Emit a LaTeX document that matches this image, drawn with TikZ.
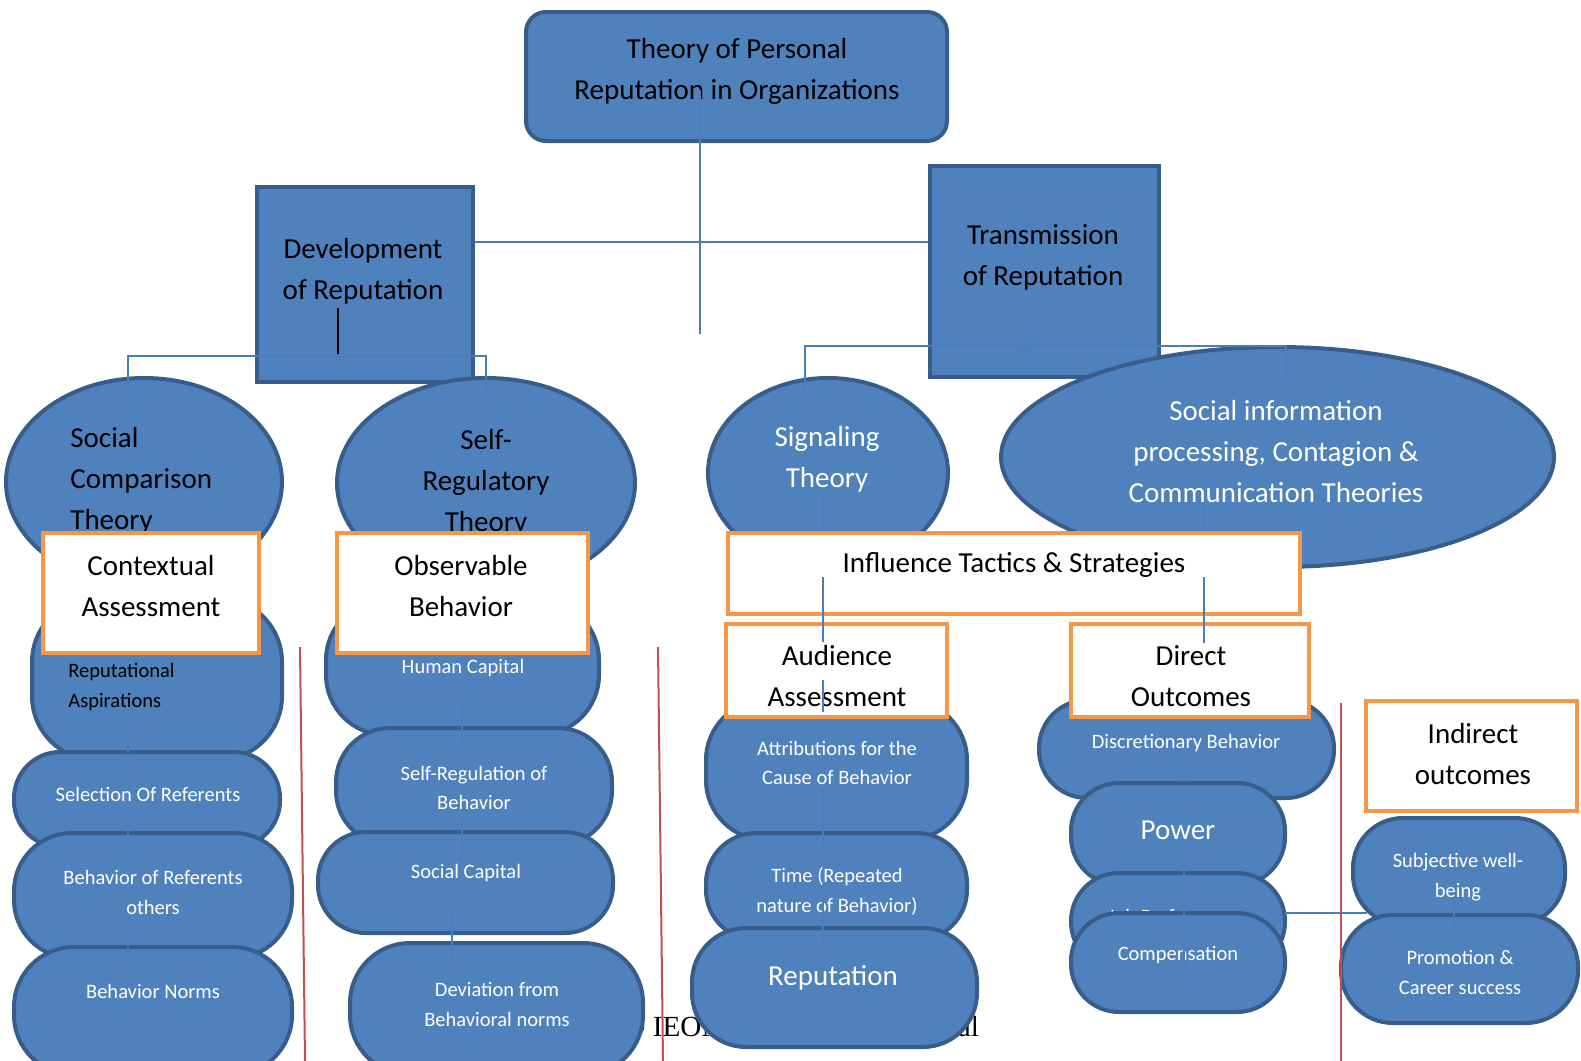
\documentclass[tikz,border=0pt]{standalone}
\usepackage{fontspec}
\setmainfont{Carlito}
\newfontfamily\footfont{Liberation Serif}
\usetikzlibrary{shapes.geometric}
\definecolor{fillblue}{HTML}{4F81BD}
\definecolor{bordblue}{HTML}{385D8A}
\definecolor{linkblue}{HTML}{4A7EBB}
\definecolor{frameorange}{HTML}{F79646}
\definecolor{rulered}{HTML}{C0504D}

\begin{document}
\begin{tikzpicture}[x=0.5pt,y=-0.5pt,
    wh/.style 2 args={minimum width=#1*0.5pt,minimum height=#2*0.5pt},
    blob/.style={draw=bordblue,fill=fillblue,line width=2pt,inner sep=0pt},
    pill/.style={blob,rounded corners=#1},
    pill/.default=23pt,
    oval/.style={blob,ellipse},
    framebox/.style={draw=frameorange,fill=white,line width=2.3pt,inner sep=0pt},
    bigtxt/.style={font=\fontsize{14.5}{20.5}\selectfont,align=center,inner sep=0pt},
    smalltxt/.style={font=\fontsize{10.25}{14.75}\selectfont,align=center,inner sep=0pt,text=white},
    link/.style={draw=linkblue,line width=1pt},
    redrule/.style={draw=rulered,line width=1pt}]
    \clip (0,0) rectangle (1581,1061);

    % page footer, mostly hidden
    \node[anchor=base west,inner sep=0pt,font=\footfont\fontsize{14.6}{17}\selectfont] (footer) at (623,1036) {\textcopyright{} IEOM Society International};

    % top levels
    \node[blob,rounded corners=10pt,wh={421}{129}] (top) at (736.5,76.5) {};
    \node[bigtxt] (topT) at (737,71) {Theory of Personal\\Reputation in Organizations};
    \node[blob,wh={216}{195}] (dev) at (365,284.5) {};
    \node[bigtxt] (devT) at (363,271.5) {Development\\of Reputation};
    \node[blob,wh={229}{211}] (trans) at (1044.5,271.5) {};
    \node[bigtxt] (transT) at (1043,257) {Transmission\\of Reputation};

    % theories
    \node[oval,wh={276}{208}] (socc) at (144,482) {};
    \node[bigtxt,anchor=west,align=left] (soccT) at (70,481) {Social\\Comparison\\Theory};
    \node[oval,wh={298}{210}] (selfreg) at (486,483) {};
    \node[bigtxt] (selfregT) at (486,483) {Self-\\Regulatory\\Theory};
    \node[oval,wh={240}{190}] (signal) at (828,473) {};
    \node[bigtxt,text=white] (signalT) at (827,459) {Signaling\\Theory};
    \node[oval,wh={553}{220}] (sip) at (1277.5,457) {};
    \node[bigtxt,text=white] (sipT) at (1276,452) {Social information\\processing, Contagion \&\\Communication Theories};

    % left stack
    \node[pill=32pt,wh={250}{162}] (asp) at (157,679) {};
    \node[smalltxt,text=black,anchor=west,align=left] (aspT) at (68,687) {Reputational\\Aspirations};
    \node[pill,wh={266}{95}] (selref) at (147,799.5) {};
    \node[smalltxt] (selrefT) at (148,794) {Selection Of Referents};
    \node[pill=29pt,wh={278}{125}] (behref) at (153,895.5) {};
    \node[smalltxt] (behrefT) at (153,892.5) {Behavior of Referents\\others};
    \node[pill=30pt,wh={278}{128}] (bnorms) at (153,1011) {};
    \node[smalltxt] (bnormsT) at (153,991) {Behavior Norms};

    % middle stack
    \node[pill=30pt,wh={273}{135}] (human) at (462.5,667.5) {};
    \node[smalltxt] (humanT) at (463,668) {Human Capital};
    \node[pill=27pt,wh={276}{117}] (selfrb) at (474,786.5) {};
    \node[smalltxt] (selfrbT) at (474,788) {Self-Regulation of\\Behavior};
    \node[pill=24pt,wh={295}{101}] (soccap) at (465.5,882.5) {};
    \node[smalltxt] (soccapT) at (466,873) {Social Capital};
    \node[pill=30pt,wh={293}{132}] (devnorm) at (496.5,1009) {};
    \node[smalltxt] (devnormT) at (497,1004.5) {Deviation from\\Behavioral norms};

    % audience stack
    \node[pill=30pt,wh={261}{140}] (attr) at (836.5,770) {};
    \node[smalltxt] (attrT) at (837,763) {Attributions for the\\Cause of Behavior};
    \node[pill=25pt,wh={261}{107}] (time) at (836.5,886.5) {};
    \node[smalltxt] (timeT) at (837,891.5) {Time (Repeated\\nature of Behavior)};
    \node[pill=27pt,wh={285}{119}] (rep) at (834.5,987.5) {};
    \node[bigtxt,text=white] (repT) at (833,978) {Reputation};

    % direct stack
    \node[pill=24pt,wh={295}{98}] (disc) at (1186.5,749) {};
    \node[smalltxt] (discT) at (1186,743) {Discretionary Behavior};
    \node[pill=24pt,wh={214}{102}] (power) at (1178,834) {};
    \node[bigtxt,text=white] (powerT) at (1178,830) {Power};
    \node[pill=24pt,wh={214}{97}] (jobperf) at (1178,921.5) {};
    \node[smalltxt] (jobperfT) at (1178,916) {Job Performance};
    \node[pill=24pt,wh={214}{99}] (comp) at (1178,962.5) {};
    \node[smalltxt] (compT) at (1178,955) {Compensation};

    % indirect stack
    \node[pill=25pt,wh={212}{107}] (subj) at (1459,871.5) {};
    \node[smalltxt] (subjT) at (1458,877) {Subjective well-\\being};
    \node[pill=26pt,wh={237}{108}] (promo) at (1459.5,969) {};
    \node[smalltxt] (promoT) at (1460,972.5) {Promotion \&\\Career success};

    % orange frames
    \node[framebox,wh={216}{120}] (ctx) at (151,593) {};
    \node[bigtxt] (ctxT) at (151,586) {Contextual\\Assessment};
    \node[framebox,wh={251}{120}] (obs) at (462.5,593) {};
    \node[bigtxt] (obsT) at (461,586) {Observable\\Behavior};
    \node[framebox,wh={572}{81}] (infl) at (1014,573.5) {};
    \node[bigtxt] (inflT) at (1014,565) {Influence Tactics \& Strategies};
    \node[framebox,wh={221}{93}] (aud) at (836.5,670.5) {};
    \node[bigtxt] (audT) at (837,676.5) {Audience\\Assessment};
    \node[framebox,wh={238}{93}] (direct) at (1190,670.5) {};
    \node[bigtxt] (directT) at (1191,676.5) {Direct\\Outcomes};
    \node[framebox,wh={211}{110}] (indirect) at (1471.5,756) {};
    \node[bigtxt] (indirectT) at (1473,754) {Indirect\\outcomes};

    % connectors
    \coordinate (TrunkTop) at (700,90);
    \coordinate (TrunkEnd) at (700,334);
    \coordinate (BranchY) at (0,242);
    \draw[link] (TrunkTop) -- (TrunkEnd);% trunk
    \draw[link] (dev.east |- BranchY) -- (trans.west |- BranchY);% two branches

    \coordinate (DevForkL) at (128,356);
    \coordinate (DevForkR) at (486,356);
    \coordinate (SoccTop) at (128,397);
    \coordinate (SelfTop) at (486,397);
    \draw[link] (SoccTop) -- (DevForkL) -- (DevForkR) -- (SelfTop);% development fork
    \coordinate (DevStubA) at (338,308);
    \coordinate (DevStubB) at (338,354);
    \draw[black,line width=0.8pt] (DevStubA) -- (DevStubB);

    \coordinate (TransForkL) at (805,346);
    \coordinate (TransForkR) at (1286,346);
    \coordinate (SignalTop) at (805,397);
    \coordinate (SipTop) at (1286,381);
    \coordinate (TransStubA) at (1024,320);
    \coordinate (TransStubB) at (1024,363);
    \draw[link] (SignalTop) -- (TransForkL) -- (TransForkR) -- (SipTop);% transmission fork
    \draw[link] (TransStubA) -- (TransStubB);

    \coordinate (SigA) at (823,493);
    \coordinate (SigB) at (823,577);
    \coordinate (SigC) at (823,642);
    \coordinate (SigD) at (823,680);
    \coordinate (SigE) at (823,712);
    \coordinate (SigF) at (823,787);
    \coordinate (SigG) at (823,852);
    \coordinate (SigH) at (823,900);
    \coordinate (SigI) at (823,947);
    \draw[link] (SigA) -- (SigA |- infl.north);% signaling chain
    \draw[link] (SigB) -- (SigC);
    \draw[link] (SigD) -- (SigE);
    \draw[link] (SigF) -- (SigG);
    \draw[link] (SigH) -- (SigI);

    \coordinate (SipA) at (1205,503);
    \coordinate (SipB) at (1204,577);
    \coordinate (SipC) at (1204,643);
    \draw[link] (SipA) -- (SipA |- infl.north);% social information chain
    \draw[link] (SipB) -- (SipC);

    \coordinate (LeftA) at (128,713);
    \coordinate (LeftB) at (128,753);
    \coordinate (LeftC) at (128,820);
    \coordinate (LeftD) at (128,863);
    \coordinate (LeftE) at (128,913);
    \coordinate (LeftF) at (128,953);
    \draw[link] (LeftA) -- (LeftB);% left chain
    \draw[link] (LeftC) -- (LeftD);
    \draw[link] (LeftE) -- (LeftF);
    \coordinate (MidA) at (462,702);
    \coordinate (MidB) at (462,747);
    \coordinate (MidC) at (462,809);
    \coordinate (MidD) at (462,863);
    \coordinate (MidE) at (452,915);
    \coordinate (MidF) at (452,963);
    \draw[link] (MidA) -- (MidB);% middle chain
    \draw[link] (MidC) -- (MidD);
    \draw[link] (MidE) -- (MidF);
    \coordinate (RightA) at (1184,762);
    \coordinate (RightB) at (1184,782);
    \coordinate (RightC) at (1184,842);
    \coordinate (RightD) at (1184,987);
    \draw[link] (RightA) -- (RightB);% direct chain
    \draw[link] (RightC) -- (RightD);
    \coordinate (BridgeStart) at (1285,913);
    \coordinate (BridgeEnd) at (1367,913);
    \draw[link] (BridgeStart) -- (BridgeEnd);% to indirect
    \coordinate (SubjA) at (1454,900);
    \coordinate (SubjB) at (1454,933);
    \draw[link] (SubjA) -- (SubjB);

    % red rules
    \coordinate (RuleA1) at (300,647);
    \coordinate (RuleA2) at (305,1061);
    \coordinate (RuleB1) at (658,647);
    \coordinate (RuleB2) at (663,1061);
    \coordinate (RuleC1) at (1341,703);
    \coordinate (RuleC2) at (1341,1061);
    \draw[redrule] (RuleA1) -- (RuleA2);
    \draw[redrule] (RuleB1) -- (RuleB2);
    \draw[redrule] (RuleC1) -- (RuleC2);
\end{tikzpicture}
\end{document}
